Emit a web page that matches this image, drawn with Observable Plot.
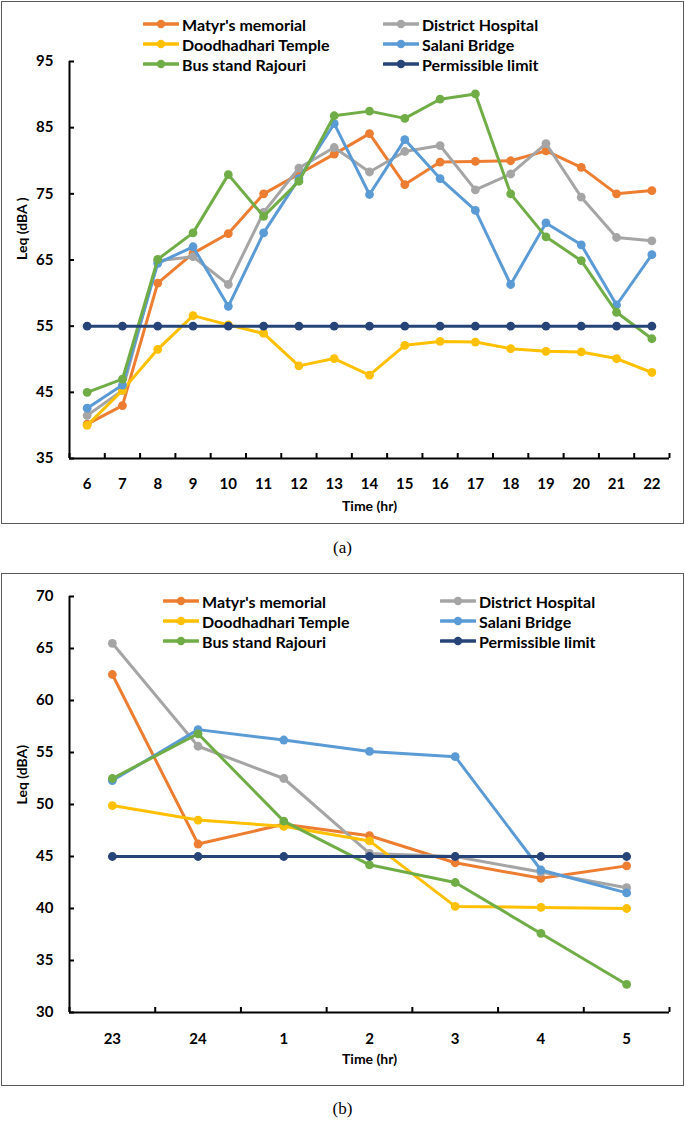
<!DOCTYPE html>
<html><head><meta charset="utf-8">
<script src="https://cdn.jsdelivr.net/npm/d3@7"></script>
<script src="https://cdn.jsdelivr.net/npm/@observablehq/plot@0.6"></script>
<style>
body{margin:0;background:#fff;width:685px;height:1122px;position:relative;font-family:Lato,"Open Sans",sans-serif;overflow:hidden}
.box{position:absolute;left:1px;width:681px;border:1px solid #595959;background:#fff}
.box svg{position:absolute;left:0;top:0}
.cap{position:absolute;left:0;width:685px;text-align:center;font-family:"Liberation Serif","Times New Roman",serif;font-size:17px;color:#000}
.item{position:absolute;white-space:nowrap;display:flex;align-items:center;height:20px;font-weight:bold;font-size:16px;color:#000;font-family:Lato,sans-serif;z-index:2}
.item svg{position:static;margin-right:3px}
</style></head><body>
<div class="box" id="boxA" style="top:1px;height:521px"></div>
<div class="cap" style="top:538px">(a)</div>
<div class="box" id="boxB" style="top:573px;height:511px"></div>
<div class="cap" style="top:1099px">(b)</div>
<script>
// ---------- data: (a) day time ----------
const hoursDay = ["6","7","8","9","10","11","12","13","14","15","16","17","18","19","20","21","22"];
const martyrsDay   = [40.2, 43.0, 61.5, 66.0, 69.0, 75.0, 78.0, 81.0, 84.1, 76.4, 79.8, 79.9, 80.0, 81.5, 79.0, 75.0, 75.5];
const hospitalDay  = [41.5, 45.3, 64.9, 65.5, 61.3, 72.2, 78.9, 82.0, 78.3, 81.4, 82.3, 75.6, 78.0, 82.6, 74.5, 68.4, 67.9];
const templeDay    = [40.0, 45.3, 51.5, 56.6, 55.2, 53.9, 49.0, 50.1, 47.6, 52.1, 52.7, 52.6, 51.6, 51.2, 51.1, 50.1, 48.0];
const bridgeDay    = [42.6, 46.1, 64.5, 67.0, 58.0, 69.1, 77.3, 85.6, 74.9, 83.2, 77.3, 72.5, 61.3, 70.6, 67.3, 58.2, 65.8];
const busDay       = [45.0, 47.0, 65.1, 69.1, 77.9, 71.6, 76.9, 86.8, 87.5, 86.4, 89.3, 90.1, 75.0, 68.5, 64.9, 57.1, 53.1];
const limitDay     = [55, 55, 55, 55, 55, 55, 55, 55, 55, 55, 55, 55, 55, 55, 55, 55, 55];
const yTicksDay = [35, 45, 55, 65, 75, 85, 95];

// ---------- data: (b) night time ----------
const hoursNight = ["23","24","1","2","3","4","5"];
const martyrsNight  = [62.5, 46.2, 48.1, 47.0, 44.4, 42.9, 44.1];
const hospitalNight = [65.5, 55.6, 52.5, 45.3, 45.0, 43.5, 42.0];
const templeNight   = [49.9, 48.5, 47.9, 46.5, 40.2, 40.1, 40.0];
const bridgeNight   = [52.3, 57.2, 56.2, 55.1, 54.6, 43.7, 41.5];
const busNight      = [52.5, 56.8, 48.4, 44.2, 42.5, 37.6, 32.7];
const limitNight    = [45, 45, 45, 45, 45, 45, 45];
const yTicksNight = [30, 35, 40, 45, 50, 55, 60, 65, 70];

const seriesNames = ["Matyr's memorial","District Hospital","Doodhadhari Temple","Salani Bridge","Bus stand Rajouri","Permissible limit"];
const seriesColors = ["#ED7D31","#A5A5A5","#FFC000","#5B9BD5","#70AD47","#264478"];

function buildChart(hours, seriesVals, yTicks, opts) {
  const n = hours.length;
  const idx = hours.map((h, i) => i);
  const bounds = [-0.5].concat(idx.map(i => i + 0.5));
  const marks = [];
  seriesVals.forEach((vals, k) => {
    const rows = vals.map((v, i) => ({i, v}));
    marks.push(Plot.line(rows, {x: "i", y: "v", stroke: seriesColors[k], strokeWidth: 3, strokeLinejoin: "round"}));
    marks.push(Plot.dot(rows, {x: "i", y: "v", fill: seriesColors[k], stroke: "none", r: 4.4}));
  });
  const yMin = yTicks[0];
  marks.push(
    Plot.ruleY([yMin], {stroke: "#000", strokeWidth: 2}),
    Plot.ruleX([-0.5], {stroke: "#000", strokeWidth: 2}),
    Plot.axisX({ticks: bounds, tickSize: 5, dy: -5, tickFormat: () => "", label: null, strokeWidth: 2, stroke: "#000"}),
    Plot.axisX({ticks: idx, tickSize: 0, tickPadding: opts.xPad, tickFormat: i => hours[i], label: null, fontSize: 15, fontWeight: "bold", fill: "#000"}),
    Plot.axisY({ticks: yTicks, tickSize: 5, dx: 5, tickFormat: () => "", label: null, strokeWidth: 2, stroke: "#000"}),
    Plot.axisY({ticks: yTicks, tickSize: 0, tickPadding: 16, label: null, fontSize: 15, fontWeight: "bold", fill: "#000"}),
    Plot.text(["Time (hr)"], {frameAnchor: "bottom", dy: opts.titleDy, fontSize: 14, fontWeight: "bold", fill: "#000"}),
    Plot.text([opts.yLabel], {frameAnchor: "left", rotate: -90, dx: -47, fontSize: 14, fontWeight: "bold", fill: "#000"})
  );
  return Plot.plot({
    width: 681, height: opts.height,
    marginLeft: 67, marginRight: 14, marginTop: opts.mt, marginBottom: opts.mb,
    x: {domain: [-0.5, n - 0.5]},
    y: {domain: [yMin, yTicks[yTicks.length - 1]]},
    style: {fontFamily: "Lato, 'Open Sans', sans-serif", background: "transparent", color: "#000", overflow: "visible"},
    marks
  });
}

function addLegend(box, cols, rows) {
  seriesNames.forEach((name, k) => {
    const c = k % 2, r = Math.floor(k / 2);
    const d = document.createElement("div");
    d.className = "item";
    d.style.left = cols[c] + "px";
    d.style.top = (rows[r] - 10) + "px";
    d.innerHTML = `<svg width="36" height="12" viewBox="0 0 36 12"><line x1="1" y1="6" x2="35" y2="6" stroke="${seriesColors[k]}" stroke-width="3.5" stroke-linecap="round"/><circle cx="18" cy="6" r="4.2" fill="${seriesColors[k]}"/></svg><span>${name}</span>`;
    box.appendChild(d);
  });
}

const boxA = document.getElementById("boxA");
boxA.appendChild(buildChart(hoursDay, [martyrsDay, hospitalDay, templeDay, bridgeDay, busDay, limitDay], yTicksDay,
  {height: 521, mt: 59, mb: 65, xPad: 20, titleDy: 52, yLabel: "Leq (dBA )"}));
addLegend(boxA, [141, 381], [22, 42, 62]);

const boxB = document.getElementById("boxB");
boxB.appendChild(buildChart(hoursNight, [martyrsNight, hospitalNight, templeNight, bridgeNight, busNight, limitNight], yTicksNight,
  {height: 511, mt: 22, mb: 73, xPad: 21, titleDy: 51, yLabel: "Leq (dBA)"}));
addLegend(boxB, [161, 438], [27, 47, 67]);
</script>
</body></html>
